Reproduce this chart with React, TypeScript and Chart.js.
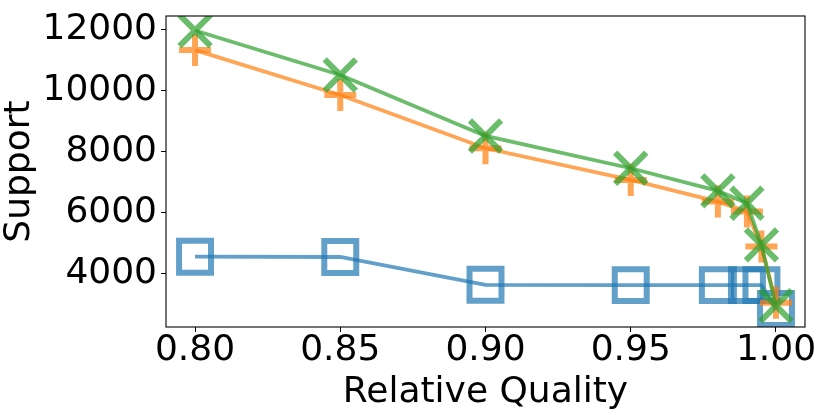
import React, { useEffect, useRef } from "react";
import { Chart, registerables } from "chart.js";

Chart.register(...registerables);

const qualities = [0.8, 0.85, 0.9, 0.95, 0.98, 0.99, 0.995, 1.0];
const blueSupport = [4560, 4550, 3640, 3630, 3630, 3630, 3630, 2850];
const orangeSupport = [11320, 9850, 8108, 7072, 6363, 6036, 4892, 3052];
const greenSupport = [11960, 10503, 8510, 7454, 6712, 6310, 4948, 2954];
const xTicks = [0.8, 0.85, 0.9, 0.95, 1.0];
const yTicks = [4000, 6000, 8000, 10000, 12000];

const FONT = "DejaVu Sans";

const framePlugin = {
  id: "frame",
  afterDraw(chart: any) {
    const { ctx, chartArea } = chart;
    ctx.save();
    ctx.strokeStyle = "#000";
    ctx.lineWidth = 1.1;
    ctx.strokeRect(
      chartArea.left,
      chartArea.top,
      chartArea.right - chartArea.left,
      chartArea.bottom - chartArea.top
    );
    ctx.restore();
  },
};

const zeroPad = (scale: any) => {
  scale.paddingTop = 0;
  scale.paddingBottom = 0;
  scale.paddingLeft = 0;
  scale.paddingRight = 0;
};

export default function App() {
  const ref = useRef<HTMLCanvasElement>(null);

  useEffect(() => {
    if (!ref.current) return;
    const mk = (vals: number[]) => vals.map((y, i) => ({ x: qualities[i], y }));
    const chart = new Chart(ref.current, {
      type: "line",
      data: {
        datasets: [
          {
            label: "blue",
            data: mk(blueSupport),
            borderColor: "rgba(31,119,180,0.7)",
            backgroundColor: "transparent",
            borderWidth: 3.8,
            pointStyle: "rect",
            pointRadius: 22.6,
            pointHoverRadius: 22.6,
            pointBorderWidth: 6,
            pointBorderColor: "rgba(31,119,180,0.7)",
            pointBackgroundColor: "transparent",
            tension: 0,
            clip: 0,
            order: 3,
          },
          {
            label: "orange",
            data: mk(orangeSupport),
            borderColor: "rgba(255,127,14,0.7)",
            backgroundColor: "transparent",
            borderWidth: 3.8,
            pointStyle: "cross",
            pointRadius: 16,
            pointHoverRadius: 16,
            pointBorderWidth: 6,
            pointBorderColor: "rgba(255,127,14,0.7)",
            pointBackgroundColor: "transparent",
            tension: 0,
            clip: 0,
            order: 2,
          },
          {
            label: "green",
            data: mk(greenSupport),
            borderColor: "rgba(44,160,44,0.7)",
            backgroundColor: "transparent",
            borderWidth: 3.8,
            pointStyle: "crossRot",
            pointRadius: 22,
            pointHoverRadius: 22,
            pointBorderWidth: 6,
            pointBorderColor: "rgba(44,160,44,0.7)",
            pointBackgroundColor: "transparent",
            tension: 0,
            clip: 0,
            order: 1,
          },
        ] as any,
      },
      options: {
        animation: false,
        responsive: false,
        devicePixelRatio: 1,
        events: [],
        layout: { autoPadding: false, padding: { top: 16, right: 25, bottom: 0, left: 0 } },
        plugins: {
          legend: { display: false },
          tooltip: { enabled: false },
        },
        scales: {
          x: {
            type: "linear",
            min: 0.79,
            max: 1.01,
            afterBuildTicks: (scale: any) => {
              scale.ticks = xTicks.map((v) => ({ value: v }));
            },
            afterFit: (scale: any) => {
              scale.height = 88;
              zeroPad(scale);
            },
            grid: {
              display: true,
              drawOnChartArea: false,
              drawTicks: true,
              tickLength: 5,
              tickColor: "#000",
              tickWidth: 1,
            },
            border: { display: false },
            ticks: {
              autoSkip: false,
              maxRotation: 0,
              padding: 1,
              color: "#000",
              font: { family: FONT, size: 36, lineHeight: 1.0 },
              callback: (v: any) => Number(v).toFixed(2),
            },
            title: {
              display: true,
              text: "Relative Quality",
              color: "#000",
              font: { family: FONT, size: 36, lineHeight: 1.1 },
              padding: { top: 0, bottom: 3 },
            },
          },
          y: {
            type: "linear",
            min: 2260,
            max: 12435,
            afterBuildTicks: (scale: any) => {
              scale.ticks = yTicks.map((v) => ({ value: v }));
            },
            afterFit: (scale: any) => {
              scale.width = 166;
              zeroPad(scale);
            },
            grid: {
              display: true,
              drawOnChartArea: false,
              drawTicks: true,
              tickLength: 5,
              tickColor: "#000",
              tickWidth: 1,
            },
            border: { display: false },
            ticks: {
              autoSkip: false,
              padding: 4,
              color: "#000",
              font: { family: FONT, size: 36, lineHeight: 1.0 },
              callback: (v: any) => String(v),
            },
            title: {
              display: true,
              text: "Support",
              color: "#000",
              font: { family: FONT, size: 36, lineHeight: 1.1 },
              padding: { top: 0, bottom: 0 },
            },
          },
        },
      },
      plugins: [framePlugin],
    });
    return () => chart.destroy();
  }, []);

  return (
    <div style={{ position: "fixed", left: 0, top: 0, width: 830, height: 415, background: "#fff" }}>
      <canvas ref={ref} width={830} height={415} style={{ width: 830, height: 415, display: "block" }} />
    </div>
  );
}
